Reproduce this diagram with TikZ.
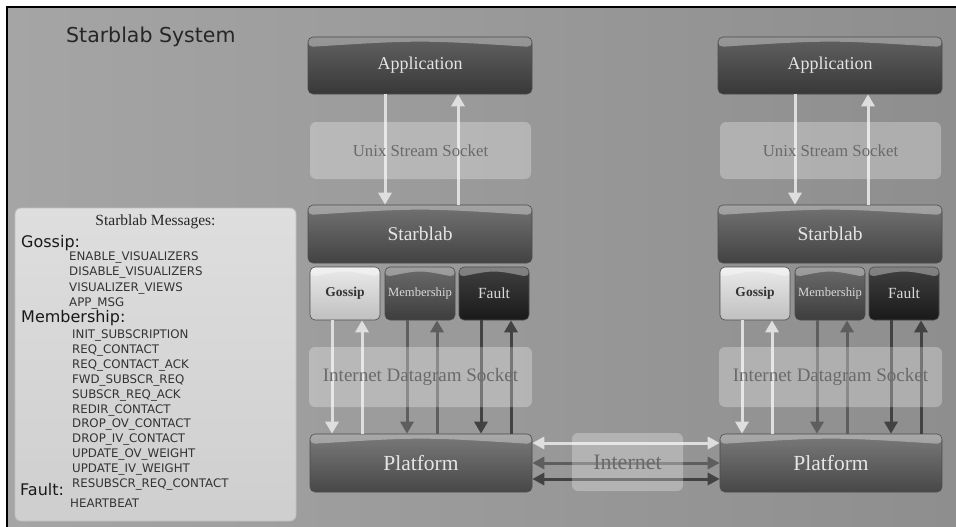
\documentclass[tikz,border=0pt]{standalone}
\usepackage{fontspec}
\setmainfont{Liberation Serif}
\setsansfont{DejaVu Sans}
\usepackage{xcolor}
\usetikzlibrary{arrows.meta,positioning}
\definecolor{bgleft}{HTML}{A5A5A5}
\definecolor{bgright}{HTML}{8E8E8E}
\definecolor{lightarr}{HTML}{DEDEDE}
\definecolor{midarr}{HTML}{5E5E5E}
\definecolor{darkarr}{HTML}{424242}
\definecolor{socktext}{HTML}{6A6A6A}
\tikzstyle{slab}=[rounded corners=5pt, draw=black!70, line width=0.6pt, inner sep=0pt,
  path picture={\fill[white,opacity=.35] (path picture bounding box.north west) -- (path picture bounding box.north east)
    -- ([yshift=-10pt]path picture bounding box.north east) .. controls ([yshift=-3pt]path picture bounding box.north)
    .. ([yshift=-10pt]path picture bounding box.north west) -- cycle;}]
\tikzstyle{sock}=[rounded corners=6pt, fill=white, fill opacity=.28, text opacity=1, text=socktext, inner sep=0pt]
\tikzstyle{arrow}=[-{Triangle[width=13pt,length=12pt]}, line width=3pt]
\tikzstyle{arrows2}=[{Triangle[width=12pt,length=12pt]}-{Triangle[width=12pt,length=12pt]}, line width=3pt]
\begin{document}
\begin{tikzpicture}[x=1pt,y=-1pt,
  item/.style={anchor=west,font=\sffamily\fontsize{11.8}{13}\selectfont,text=black!80,inner sep=0pt},
  head/.style={anchor=west,font=\sffamily\fontsize{16}{18}\selectfont,text=black!90,inner sep=0pt}]
\useasboundingbox (0,0) rectangle (956,527);
% background
\fill[white] (0,0) rectangle (956,527);
\shade[left color=bgleft, right color=bgright] (8,8) rectangle (956,527);
\draw[black, line width=2pt] (7,527) -- (7,7) -- (956,7);
\node[font=\sffamily\fontsize{20.5}{24}\selectfont, anchor=west, text=black!85, inner sep=0pt] (title) at (66,37) {Starblab System};

% two hosts
\foreach \c/\dx in {L/0, R/410} {
  \node[slab, top color=black!62, bottom color=black!78, minimum width=224pt, minimum height=57pt,
    font=\fontsize{18}{20}\selectfont, text=white!90!black] (app\c) at (420+\dx,65.5) {Application};
  \node[slab, top color=black!55, bottom color=black!74, minimum width=224pt, minimum height=58pt,
    font=\fontsize{19.5}{22}\selectfont, text=white!90!black] (star\c) at (420+\dx,234) {Starblab};
  \node[slab, top color=black!8, bottom color=black!25, minimum width=70pt, minimum height=53pt,
    font=\bfseries\fontsize{13.5}{15}\selectfont, text=black!80] (gos\c) at (345+\dx,293.5) {Gossip};
  \node[slab, top color=black!58, bottom color=black!76, minimum width=70pt, minimum height=53pt,
    font=\fontsize{12.6}{14}\selectfont, text=white!85!black] (mem\c) at (420+\dx,293.5) {Membership};
  \node[slab, top color=black!75, bottom color=black!90, minimum width=70pt, minimum height=53pt,
    font=\fontsize{15.5}{17}\selectfont, text=white!85!black] (fau\c) at (494+\dx,293.5) {Fault};
  \node[slab, top color=black!52, bottom color=black!72, minimum width=222pt, minimum height=58pt,
    font=\fontsize{21.5}{24}\selectfont, text=white!90!black] (plat\c) at (421+\dx,463) {Platform};
  % unix socket arrows
  \draw[arrow, lightarr] ([xshift=-35pt]app\c.south) -- ([xshift=-35pt]app\c.south |- star\c.north);
  \draw[arrow, lightarr] ([xshift=38pt]app\c.south |- star\c.north) -- ([xshift=38pt]app\c.south);
  % datagram arrows
  \foreach \b/\col in {gos/lightarr, mem/midarr, fau/darkarr} {
    \draw[arrow, \col] ([xshift=-13pt]\b\c.south) -- ([xshift=-13pt]\b\c.south |- plat\c.north);
    \draw[arrow, \col] ([xshift=17pt]\b\c.south |- plat\c.north) -- ([xshift=17pt]\b\c.south);
  }
  \node[sock, minimum width=221pt, minimum height=57pt, font=\fontsize{16.8}{19}\selectfont] (unix\c) at (420.5+\dx,150.5) {Unix Stream Socket};
  \node[sock, minimum width=223pt, minimum height=60pt, font=\fontsize{19}{22}\selectfont] (dgram\c) at (420.5+\dx,377) {Internet Datagram Socket};
}

% internet links
\foreach \dy/\col in {20/lightarr, 0/midarr, -16/darkarr}
  \draw[arrows2, \col] ([yshift=\dy pt]platL.east) -- ([yshift=\dy pt]platR.west);
\node[sock, minimum width=111pt, minimum height=58pt, font=\fontsize{22}{24}\selectfont] (inet) at (627.5,462) {Internet};

% message list
\node[rounded corners=6pt, top color=black!13, bottom color=black!19, draw=white!75!black, line width=0.8pt,
  minimum width=281pt, minimum height=313pt, inner sep=0pt] (msgs) at (155.5,364.5) {};
\node[font=\fontsize{15.5}{17}\selectfont, text=black!85, inner sep=0pt] (msgtitle) at (155.5,221.7) {Starblab Messages:};
\node[head] (hgos) at (21,243) {Gossip:};
\foreach \t [count=\k from 0] in {ENABLE\_VISUALIZERS, DISABLE\_VISUALIZERS, VISUALIZER\_VIEWS, APP\_MSG}
  \node[item] (gi\k) at (69,{257.7+15.2*\k}) {\t};
\node[head] (hmem) at (21,318.3) {Membership:};
\foreach \t [count=\k from 0] in {INIT\_SUBSCRIPTION, REQ\_CONTACT, REQ\_CONTACT\_ACK, FWD\_SUBSCR\_REQ,
    SUBSCR\_REQ\_ACK, REDIR\_CONTACT, DROP\_OV\_CONTACT, DROP\_IV\_CONTACT, UPDATE\_OV\_WEIGHT,
    UPDATE\_IV\_WEIGHT, RESUBSCR\_REQ\_CONTACT}
  \node[item] (mi\k) at (72,{336+14.83*\k}) {\t};
\node[head] (hfau) at (20,490) {Fault:};
\node[item] (hb) at (70,502.7) {HEARTBEAT};
\end{tikzpicture}
\end{document}
